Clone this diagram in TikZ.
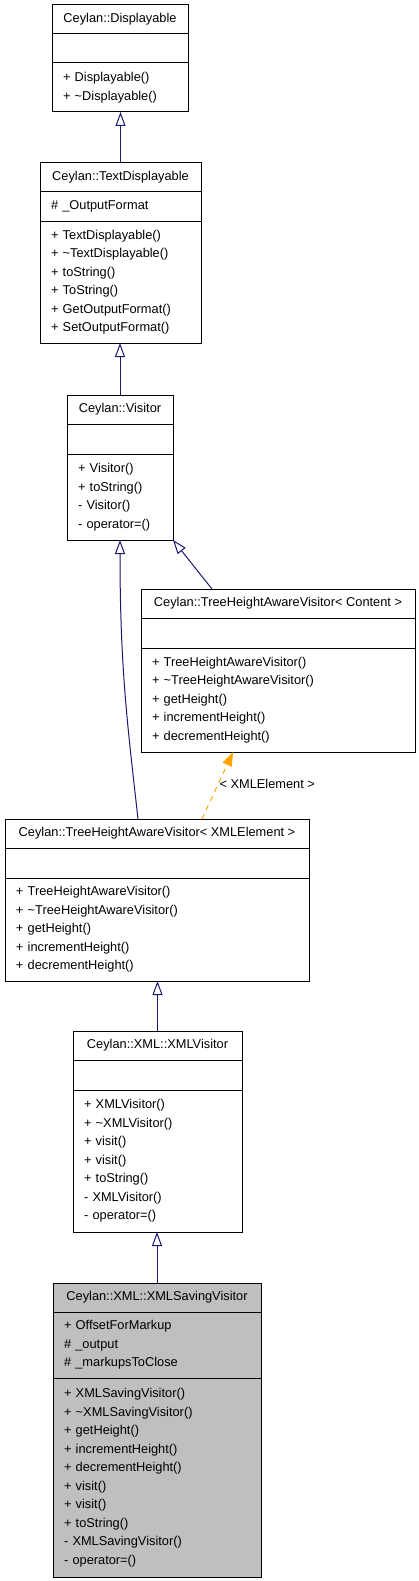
\documentclass[tikz,border=0pt]{standalone}
\usepackage{fontspec}
\setmainfont{Liberation Sans}
\usetikzlibrary{arrows.meta,positioning}
\definecolor{navy}{RGB}{25,25,112}
\definecolor{tmplorange}{RGB}{255,165,0}
\definecolor{boxgray}{RGB}{191,191,191}

\begin{document}
\begin{tikzpicture}[x=1pt,y=1pt,
		font=\fontsize{12.8}{18.5}\selectfont,
		box/.style={draw, line width=1pt, outer sep=0pt, inner sep=0pt, anchor=north west, minimum width=#1, minimum height=29pt, align=center},
		part/.style={draw, line width=1pt, outer sep=0pt, inner xsep=11pt, inner ysep=0pt, text width=#1, align=left},
		inh/.style={navy, line width=1pt, -{Triangle[open, length=14pt, width=10pt]}},
		tmpl/.style={tmplorange, line width=1pt, dash pattern=on 5pt off 5pt, -{Triangle[length=14pt, width=10pt]}},
		elabel/.style={pos=0.52, anchor=west, inner sep=1pt, text=black}]
		\useasboundingbox (0,0) rectangle (419,-1581);
		%Depth 0
		\node[box=136pt] (disp) at (52,-5) {Ceylan::Displayable};
		\node[part=114pt, minimum height=29pt, below=0pt of disp] (disp-a) {};
		\node[part=114pt, minimum height=49pt, below=0pt of disp-a] (disp-m) {+ Displayable()\\+ \textasciitilde Displayable()};
		%Depth 1
		\node[box=161pt] (tdisp) at (40,-163) {Ceylan::TextDisplayable};
		\node[part=139pt, minimum height=29pt, below=0pt of tdisp] (tdisp-a) {\# \_OutputFormat};
		\node[part=139pt, minimum height=122pt, below=0pt of tdisp-a] (tdisp-m) {+ TextDisplayable()\\+ \textasciitilde TextDisplayable()\\+ toString()\\+ ToString()\\+ GetOutputFormat()\\+ SetOutputFormat()};
		\draw[inh] (tdisp.north) -- (tdisp.north |- disp-m.south);
		%Depth 2
		\node[box=106pt] (visitor) at (67,-395) {Ceylan::Visitor};
		\node[part=84pt, minimum height=30pt, below=0pt of visitor] (visitor-a) {};
		\node[part=84pt, minimum height=86pt, below=0pt of visitor-a] (visitor-m) {+ Visitor()\\+ toString()\\- Visitor()\\- operator=()};
		\draw[inh] (visitor.north) -- (visitor.north |- tdisp-m.south);
		%Depth 3
		\node[box=274pt] (thavc) at (141,-589) {Ceylan::TreeHeightAwareVisitor< Content >};
		\node[part=252pt, minimum height=30pt, below=0pt of thavc] (thavc-a) {};
		\node[part=252pt, minimum height=104pt, below=0pt of thavc-a] (thavc-m) {+ TreeHeightAwareVisitor()\\+ \textasciitilde TreeHeightAwareVisitor()\\+ getHeight()\\+ incrementHeight()\\+ decrementHeight()};
		\draw[inh] ([xshift=71pt]thavc.north west) -- (visitor-m.south east);
		%Depth 4
		\node[box=304pt] (thavx) at (5,-819) {Ceylan::TreeHeightAwareVisitor< XMLElement >};
		\node[part=282pt, minimum height=30pt, below=0pt of thavx] (thavx-a) {};
		\node[part=282pt, minimum height=103pt, below=0pt of thavx-a] (thavx-m) {+ TreeHeightAwareVisitor()\\+ \textasciitilde TreeHeightAwareVisitor()\\+ getHeight()\\+ incrementHeight()\\+ decrementHeight()};
		\draw[inh] ([xshift=133pt]thavx.north west) .. controls +(-10,90) and +(0,-130) .. (visitor-m.south);
		\draw[tmpl] ([xshift=197pt]thavx.north west) -- node[elabel] (tmpl-lbl) {< XMLElement >} ([xshift=92pt]thavc-m.south west);
		%Depth 5
		\node[box=169pt] (xmlv) at (73,-1031) {Ceylan::XML::XMLVisitor};
		\node[part=147pt, minimum height=30pt, below=0pt of xmlv] (xmlv-a) {};
		\node[part=147pt, minimum height=142pt, below=0pt of xmlv-a] (xmlv-m) {+ XMLVisitor()\\+ \textasciitilde XMLVisitor()\\+ visit()\\+ visit()\\+ toString()\\- XMLVisitor()\\- operator=()};
		\draw[inh] (xmlv.north) -- (xmlv.north |- thavx-m.south);
		%Depth 6
		\node[box=208pt, fill=boxgray] (xmlsv) at (53,-1283) {Ceylan::XML::XMLSavingVisitor};
		\node[part=186pt, fill=boxgray, minimum height=66pt, below=0pt of xmlsv] (xmlsv-a) {+ OffsetForMarkup\\\# \_output\\\# \_markupsToClose};
		\node[part=186pt, fill=boxgray, minimum height=199pt, below=0pt of xmlsv-a] (xmlsv-m) {+ XMLSavingVisitor()\\+ \textasciitilde XMLSavingVisitor()\\+ getHeight()\\+ incrementHeight()\\+ decrementHeight()\\+ visit()\\+ visit()\\+ toString()\\- XMLSavingVisitor()\\- operator=()};
		\draw[inh] (xmlsv.north) -- (xmlsv.north |- xmlv-m.south);
		
		\end{tikzpicture}
\end{document}
